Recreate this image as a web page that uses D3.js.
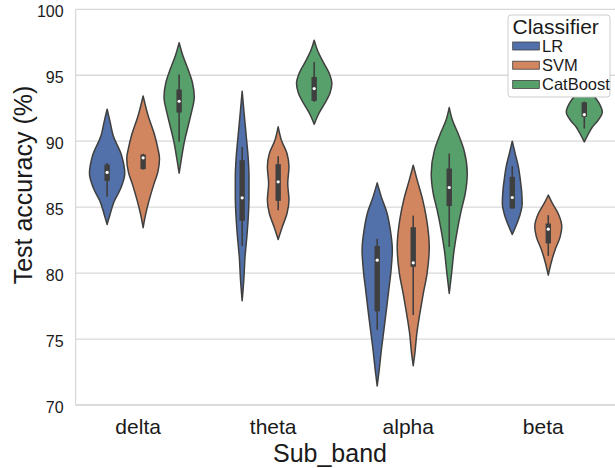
<!DOCTYPE html>
<html>
<head>
<meta charset="utf-8">
<script src="https://cdn.jsdelivr.net/npm/d3@7"></script>
<style>
  html, body { margin: 0; padding: 0; background: #fff; }
  svg { display: block; font-family: "Liberation Sans", Arial, Helvetica, sans-serif; }
</style>
</head>
<body>
<svg id="chart" width="615" height="468"></svg>
<script>
// Categories
const subBands = ["delta", "theta", "alpha", "beta"];
const classifiers = ["LR", "SVM", "CatBoost"];
const yTicks = [70, 75, 80, 85, 90, 95, 100];

// Density profiles: [accuracy %, relative density (1 = widest violin)]
const deltaLR  = [[92.42,0],[91.5,0.16],[90.45,0.33],[88.94,0.80],[87.55,0.98],[86.41,0.75],[85.40,0.38],[84.39,0.15],[83.69,0]];
const deltaSVM = [[93.43,0],[91.97,0.27],[90.45,0.64],[89.44,0.82],[88.69,0.91],[87.68,0.82],[86.67,0.58],[85.40,0.31],[84.39,0.13],[83.44,0]];
const deltaCB  = [[97.47,0],[96.52,0.20],[95.51,0.48],[94.49,0.73],[93.36,0.84],[92.22,0.69],[91.21,0.51],[89.95,0.29],[88.69,0.13],[87.58,0]];
const thetaLR  = [[93.79,0],[92.10,0.11],[90.33,0.23],[88.81,0.33],[87.30,0.38],[85.78,0.38],[84.27,0.34],[82.75,0.26],[81.24,0.16],[79.47,0.09],[77.90,0]];
const thetaSVM = [[91.09,0],[90.08,0.18],[89.07,0.49],[88.06,0.60],[86.79,0.53],[85.53,0.60],[84.52,0.49],[83.51,0.23],[82.55,0]];
const thetaCB  = [[97.65,0],[96.89,0.18],[95.88,0.55],[95.13,0.84],[94.37,0.98],[93.61,0.87],[92.85,0.58],[92.10,0.26],[91.29,0]];
const alphaLR  = [[86.84,0],[85.78,0.23],[84.52,0.55],[83.26,0.73],[81.74,0.84],[80.23,0.77],[78.71,0.64],[77.20,0.51],[75.68,0.37],[74.17,0.23],[72.65,0.11],[71.44,0]];
const alphaSVM = [[88.18,0],[87.05,0.22],[85.53,0.53],[84.02,0.75],[81.99,0.89],[79.98,0.77],[78.46,0.56],[76.94,0.37],[75.43,0.20],[73.91,0.09],[72.98,0]];
const alphaCB  = [[92.55,0],[91.59,0.18],[90.58,0.49],[89.32,0.82],[87.55,1.00],[86.04,0.89],[84.77,0.67],[83.26,0.45],[81.74,0.27],[79.98,0.13],[78.46,0]];
const betaLR   = [[90.00,0],[89.07,0.16],[88.06,0.34],[87.05,0.45],[86.04,0.53],[85.28,0.55],[84.52,0.45],[83.76,0.26],[82.93,0]];
const betaSVM  = [[85.91,0],[85.28,0.23],[84.52,0.55],[83.51,0.75],[82.75,0.66],[81.74,0.37],[80.73,0.15],[79.85,0]];
const betaCB   = [[94.30,0],[93.90,0.22],[93.41,0.55],[92.88,0.82],[92.22,1.00],[91.59,0.77],[91.08,0.45],[90.45,0.19],[89.95,0]];

// Box summaries: [lower whisker, Q1, median, Q3, upper whisker]
const deltaLRBox  = [85.78, 86.99, 87.63, 88.23, 88.35];
const deltaSVMBox = [87.85, 87.88, 88.74, 88.99, 89.05];
const deltaCBBox  = [89.95, 92.17, 93.03, 93.92, 95.05];
const thetaLRBox  = [82.05, 83.96, 85.71, 88.56, 89.57];
const thetaSVMBox = [84.77, 85.48, 86.92, 88.26, 88.86];
const thetaCBBox  = [93.00, 93.06, 93.99, 94.87, 96.01];
const alphaLRBox  = [75.70, 77.10, 80.98, 82.05, 82.60];
const alphaSVMBox = [76.82, 80.48, 80.78, 83.48, 84.36];
const alphaCBBox  = [81.99, 85.08, 86.49, 87.93, 89.07];
const betaLRBox   = [84.88, 84.90, 85.73, 87.30, 88.11];
const betaSVMBox  = [81.31, 82.25, 83.33, 83.76, 84.39];
const betaCBBox   = [90.96, 91.85, 92.02, 92.95, 93.00];

const palette = ["#5271ab", "#d28660", "#58a06b"];

// Assemble the per-violin table from the arrays above
const profiles = {
  delta: [deltaLR, deltaSVM, deltaCB],
  theta: [thetaLR, thetaSVM, thetaCB],
  alpha: [alphaLR, alphaSVM, alphaCB],
  beta:  [betaLR, betaSVM, betaCB]
};
const boxes = {
  delta: [deltaLRBox, deltaSVMBox, deltaCBBox],
  theta: [thetaLRBox, thetaSVMBox, thetaCBBox],
  alpha: [alphaLRBox, alphaSVMBox, alphaCBBox],
  beta:  [betaLRBox, betaSVMBox, betaCBBox]
};
const violins = [];
subBands.forEach(b => classifiers.forEach((c, i) => {
  violins.push({ band: b, clf: c, idx: i, profile: profiles[b][i], box: boxes[b][i] });
}));

const svg = d3.select("#chart");
const plot = { left: 75.6, right: 615.8, top: 9.3, bottom: 405 };
const gridColor = "#d9d9d9";
const inkColor = "#3f3f3f";
const textColor = "#1a1a1a";

const x = d3.scaleBand().domain(subBands).range([plot.left, plot.right]);
const hue = d3.scaleBand().domain(classifiers)
  .range([0.1 * x.bandwidth(), 0.9 * x.bandwidth()]);
const y = d3.scaleLinear().domain([70, 100]).range([plot.bottom, plot.top]);
const halfW = d3.scaleLinear().domain([0, 1]).range([0, hue.bandwidth() / 2]);
const color = d3.scaleOrdinal().domain(classifiers).range(palette);

// Horizontal gridlines
svg.append("g")
  .selectAll("line")
  .data(yTicks)
  .join("line")
  .attr("x1", plot.left).attr("x2", plot.right)
  .attr("y1", d => y(d)).attr("y2", d => y(d))
  .attr("stroke", gridColor).attr("stroke-width", 1.3);

// Spines
svg.append("line")
  .attr("x1", plot.left).attr("x2", plot.left)
  .attr("y1", plot.top).attr("y2", plot.bottom)
  .attr("stroke", gridColor).attr("stroke-width", 1.3);
svg.append("line")
  .attr("x1", plot.left).attr("x2", plot.right)
  .attr("y1", plot.bottom).attr("y2", plot.bottom)
  .attr("stroke", gridColor).attr("stroke-width", 1.3);

// Y axis labels
const yAxis = svg.append("g")
  .attr("transform", `translate(${plot.left},0)`)
  .call(d3.axisLeft(y).tickValues(yTicks).tickSize(0).tickPadding(12));
yAxis.select(".domain").remove();
yAxis.selectAll("text")
  .attr("font-size", 16).attr("fill", textColor)
  .attr("dy", "0.47em")
  .attr("font-family", "Liberation Sans, Arial, sans-serif");

// X axis labels
const xAxis = svg.append("g")
  .attr("transform", `translate(0,${plot.bottom})`)
  .call(d3.axisBottom(x).tickSize(0).tickPadding(14));
xAxis.select(".domain").remove();
xAxis.selectAll("text")
  .attr("font-size", 21).attr("fill", textColor)
  .attr("dx", -5)
  .attr("font-family", "Liberation Sans, Arial, sans-serif");

// Violins
const g = svg.append("g");
violins.forEach(v => {
  const cx = x(v.band) + hue(v.clf) + hue.bandwidth() / 2;
  const area = d3.area()
    .curve(d3.curveMonotoneY)
    .y(d => y(d[0]))
    .x0(d => cx - halfW(d[1]))
    .x1(d => cx + halfW(d[1]));
  g.append("path")
    .attr("d", area(v.profile))
    .attr("fill", color(v.clf))
    .attr("stroke", inkColor)
    .attr("stroke-width", 1.5)
    .attr("stroke-linejoin", "round");

  const [lo, q1, med, q3, hi] = v.box;
  g.append("line")
    .attr("x1", cx).attr("x2", cx)
    .attr("y1", y(lo)).attr("y2", y(hi))
    .attr("stroke", inkColor).attr("stroke-width", 1.6);
  g.append("rect")
    .attr("x", cx - 2.7).attr("width", 5.4)
    .attr("y", y(q3)).attr("height", y(q1) - y(q3))
    .attr("fill", inkColor);
  g.append("circle")
    .attr("cx", cx).attr("cy", y(med)).attr("r", 1.6)
    .attr("fill", "#ffffff");
});

// Axis titles
svg.append("text")
  .attr("x", 330).attr("y", 453)
  .attr("text-anchor", "middle").attr("dominant-baseline", "central")
  .attr("font-size", 25).attr("fill", textColor)
  .text("Sub_band");
svg.append("text")
  .attr("transform", "translate(23,185) rotate(-90)")
  .attr("text-anchor", "middle").attr("dominant-baseline", "central")
  .attr("font-size", 25).attr("fill", textColor)
  .text("Test accuracy (%)");

// Legend
const legend = svg.append("g").attr("transform", "translate(508,15)");
legend.append("rect")
  .attr("width", 102).attr("height", 82).attr("rx", 3)
  .attr("fill", "#ffffff")
  .attr("stroke", "#cccccc").attr("stroke-width", 1);
legend.append("text")
  .attr("x", 4.5).attr("y", 11)
  .attr("dominant-baseline", "central")
  .attr("font-size", 21).attr("fill", textColor)
  .text("Classifier");
classifiers.forEach((c, i) => {
  const cy = 31 + i * 19.2;
  legend.append("rect")
    .attr("x", 4.7).attr("y", cy - 4).attr("width", 26.6).attr("height", 8)
    .attr("fill", color(c)).attr("stroke", inkColor).attr("stroke-width", 0.8);
  legend.append("text")
    .attr("x", 34).attr("y", cy)
    .attr("dominant-baseline", "central")
    .attr("font-size", 16.5).attr("fill", textColor)
    .text(c);
});
</script>
</body>
</html>
